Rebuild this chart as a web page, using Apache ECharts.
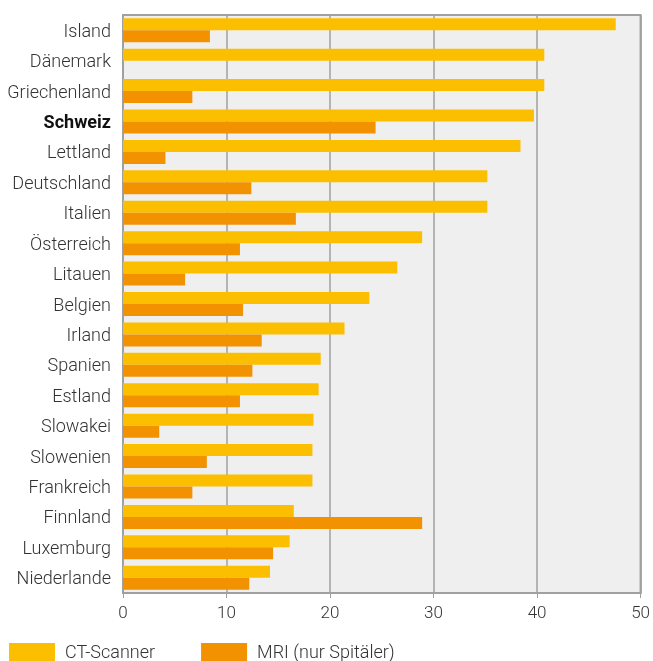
<!DOCTYPE html>
<html>
<head>
<meta charset="utf-8">
<script src="https://cdn.jsdelivr.net/npm/echarts@6/dist/echarts.min.js"></script>
<style>
  html, body { margin: 0; padding: 0; background: #fff; }
  #chart { width: 653px; height: 661px; }
</style>
</head>
<body>
<div id="chart"></div>
<script>
// Länder, von oben nach unten
var countries = ['Island', 'Dänemark', 'Griechenland', 'Schweiz', 'Lettland', 'Deutschland',
  'Italien', 'Österreich', 'Litauen', 'Belgien', 'Irland', 'Spanien', 'Estland',
  'Slowakei', 'Slowenien', 'Frankreich', 'Finnland', 'Luxemburg', 'Niederlande'];
var ctValues = [47.6, 40.7, 40.7, 39.7, 38.4, 35.2, 35.2, 28.9, 26.5, 23.8, 21.4,
  19.1, 18.9, 18.4, 18.3, 18.3, 16.5, 16.1, 14.2];
var mriValues = [8.4, null, 6.7, 24.4, 4.1, 12.4, 16.7, 11.3, 6.0, 11.6, 13.4,
  12.5, 11.3, 3.5, 8.1, 6.7, 28.9, 14.5, 12.2];
var xTicks = [0, 10, 20, 30, 40, 50];

var chart = echarts.init(document.getElementById('chart'));
var option = {
  animation: false,
  textStyle: { fontFamily: 'Roboto' },
  grid: {
    left: 123, right: 12, top: 15, bottom: 68,
    show: true, backgroundColor: '#efefef',
    borderColor: '#a0a0a0', borderWidth: 2
  },
  legend: {
    left: 9, top: 643, padding: 0,
    itemWidth: 46, itemHeight: 20, itemGap: 46,
    icon: 'rect',
    textStyle: { fontSize: 18, fontWeight: 300, color: '#333', padding: [0, 0, 0, 5] },
    data: ['CT-Scanner', 'MRI (nur Spitäler)']
  },
  xAxis: {
    type: 'value',
    min: xTicks[0], max: xTicks[xTicks.length - 1], interval: 10,
    axisLine: { show: true, lineStyle: { color: '#a0a0a0', width: 2 } },
    axisTick: { show: true, length: 5, lineStyle: { color: '#a0a0a0' } },
    axisLabel: { fontSize: 17, fontWeight: 300, color: '#333', margin: 12 },
    splitLine: { show: true, lineStyle: { color: '#a0a0a0', width: 1.5 } }
  },
  yAxis: {
    type: 'category',
    inverse: true,
    data: countries,
    axisLine: { show: true, lineStyle: { color: '#a0a0a0', width: 2 } },
    axisTick: { show: false },
    axisLabel: {
      fontSize: 18, fontWeight: 300, color: '#333', margin: 12,
      padding: [4, 0, 0, 0],
      formatter: function (v) { return v === 'Schweiz' ? '{b|' + v + '}' : v; },
      rich: { b: { fontSize: 18, fontWeight: 'bold', color: '#111' } }
    }
  },
  series: [
    {
      name: 'CT-Scanner', type: 'bar', data: ctValues,
      barWidth: 12, barGap: '0%',
      itemStyle: { color: '#fbbf00' }
    },
    {
      name: 'MRI (nur Spitäler)', type: 'bar', data: mriValues,
      barWidth: 12,
      itemStyle: { color: '#f39200' }
    }
  ]
};
chart.setOption(option);
</script>
</body>
</html>
